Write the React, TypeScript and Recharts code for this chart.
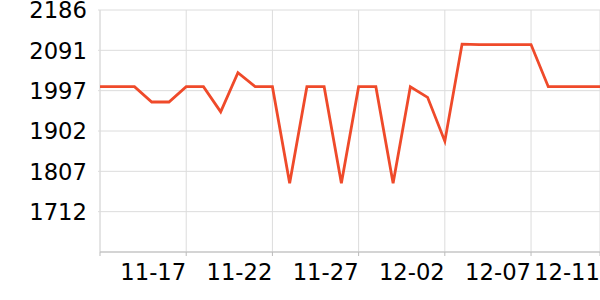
import React from 'react';
import { LineChart, Line, XAxis, YAxis, CartesianGrid } from 'recharts';

const dates = [
  '11-12', '11-13', '11-14', '11-15', '11-16', '11-17', '11-18', '11-19', '11-20', '11-21',
  '11-22', '11-23', '11-24', '11-25', '11-26', '11-27', '11-28', '11-29', '11-30', '12-01',
  '12-02', '12-03', '12-04', '12-05', '12-06', '12-07', '12-08', '12-09', '12-10', '12-11',
];
const values = [
  2006, 2006, 2006, 1970, 1970, 2006, 2006, 1947, 2039, 2006,
  2006, 1779, 2006, 2006, 1779, 2006, 2006, 1779, 2006, 1981,
  1878, 2106, 2105, 2105, 2105, 2105, 2006, 2006, 2006, 2006,
];
const xTicks = ['11-12', '11-17', '11-22', '11-27', '12-02', '12-07', '12-11'];
const yMin = 1617.65;
const yStep = 94.75;
const yTicks = [1, 2, 3, 4, 5, 6].map((k) => yMin + k * yStep);
const yMax = yMin + 6 * yStep;

const data = dates.map((d, i) => ({ date: d, value: values[i] }));

const FONT = '"DejaVu Sans", sans-serif';

const XTick = (props: any) => {
  const { x, y, payload } = props;
  if (payload.value === '11-12') return null;
  return (
    <text x={x} y={y} dy={22} textAnchor="end" fontFamily={FONT} fontSize={22.7} fill="#000">
      {payload.value}
    </text>
  );
};

const YTick = (props: any) => {
  const { x, y, payload } = props;
  return (
    <text x={x} y={y} dy="0.36em" textAnchor="end" fontFamily={FONT} fontSize={22.7} fill="#000">
      {Math.round(payload.value)}
    </text>
  );
};

export default function App() {
  return (
    <div style={{ position: 'absolute', left: 0, top: 0, width: 600, height: 300, background: '#fff' }}>
      <LineChart width={600} height={300} data={data} margin={{ top: 10, right: 0, bottom: 0, left: 0 }}>
        <CartesianGrid stroke="#dcdcdc" strokeWidth={1} />
        <XAxis
          dataKey="date"
          type="category"
          ticks={xTicks}
          interval={0}
          height={48}
          padding={{ left: 0, right: 0 }}
          axisLine={{ stroke: '#bbbbbb' }}
          tickLine={{ stroke: '#bbbbbb' }}
          tickSize={4}
          tickMargin={2}
          tick={<XTick />}
        />
        <YAxis
          type="number"
          domain={[yMin, yMax]}
          ticks={yTicks}
          width={100}
          axisLine={false}
          tickLine={{ stroke: '#dcdcdc' }}
          tickSize={2}
          tickMargin={11}
          tick={<YTick />}
          allowDataOverflow
        />
        <Line
          type="linear"
          dataKey="value"
          stroke="#ef4a2a"
          strokeWidth={2.8}
          dot={false}
          isAnimationActive={false}
        />
      </LineChart>
    </div>
  );
}
